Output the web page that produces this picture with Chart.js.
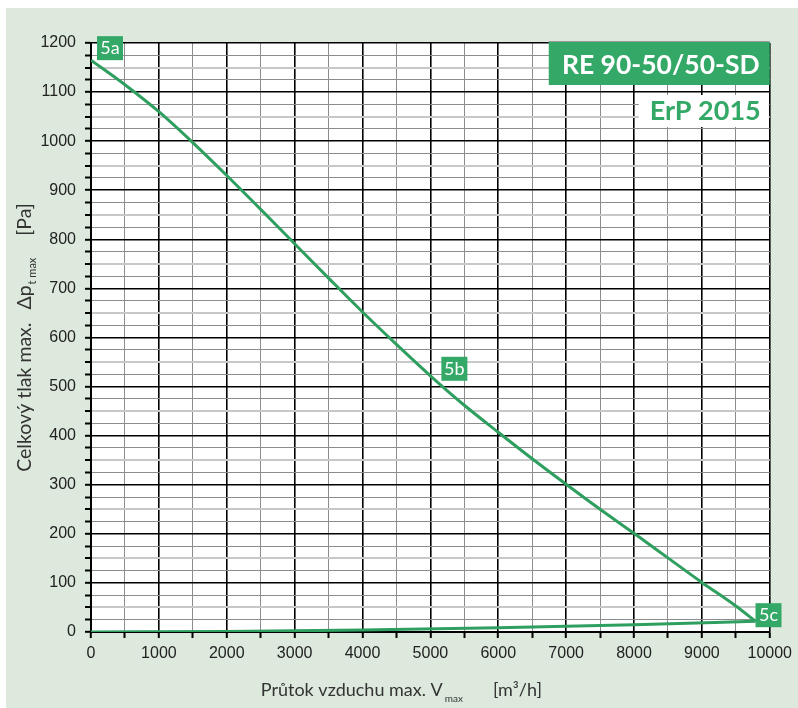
<!DOCTYPE html>
<html><head><meta charset="utf-8">
<script src="https://cdn.jsdelivr.net/npm/chart.js@4"></script>
<style>html,body{margin:0;padding:0;background:#fff;}#wrap{width:798px;height:708px;}</style>
</head><body><div id="wrap"><canvas id="c" width="798" height="708"></canvas></div>
<script>
// ---- data ----
const fanFlow = [0, 500, 1000, 1500, 2000, 2500, 3000, 3500, 4000, 4500, 5000, 5500, 6000, 6500, 7000, 7500, 8000, 8500, 9000, 9500, 9790];
const fanPressure = [1165, 1115, 1060, 997, 930, 861, 791, 721, 652, 586, 522, 462, 407, 353, 301, 250, 201, 151, 101, 53, 22];
const sysFlow = [0, 2000, 4000, 6000, 8000, 9790];
const sysPressure = [0, 1, 4, 8.5, 15, 22];
const pointNames = ['5a', '5b', '5c'];
const pointFlow = [0, 5000, 9790];
const pointPressure = [1165, 522, 22];
const xTickLabels = [0, 1000, 2000, 3000, 4000, 5000, 6000, 7000, 8000, 9000, 10000];
const yTickLabels = [0, 100, 200, 300, 400, 500, 600, 700, 800, 900, 1000, 1100, 1200];
const modelName = 'RE 90-50/50-SD';
const erpLabel = 'ErP 2015';
const xTitle = 'Průtok vzduchu max. V';
const xTitleSub = 'max';
const xUnit = '[m³/h]';
const yTitle = 'Celkový tlak max.';
const yTitleSym = 'Δp';
const yTitleSub = 't max';
const yUnit = '[Pa]';

// ---- style ----
const GREEN = '#33a867', LINE = '#2e9f5f', BG = '#dce9dc', TXT = '#333';
const labelOffsets = [[6, -24], [11, -19], [0, -18]];
const TFONT = 'Lato, "Open Sans", sans-serif';

const pts = (xs, ys) => xs.map((x, i) => ({x, y: ys[i]}));

const deco = {
  id: 'deco',
  beforeDraw(chart) {
    const {ctx, chartArea: a} = chart;
    ctx.save();
    ctx.fillStyle = BG;
    ctx.fillRect(6, 8, chart.width - 6, chart.height - 8);
    ctx.fillStyle = '#fff';
    ctx.fillRect(a.left, a.top, a.right - a.left, a.bottom - a.top);
    ctx.restore();
  },
  afterDraw(chart) {
    const {ctx, chartArea: a, scales: {x, y}} = chart;
    ctx.save();
    // model title box
    ctx.fillStyle = '#9a9a9a';
    ctx.fillRect(a.right - 221, a.top - 2, 221, 2);
    ctx.fillStyle = GREEN;
    ctx.fillRect(a.right - 221, a.top - 1, 221, 43);
    ctx.fillStyle = '#fff';
    ctx.font = 'bold 26.5px ' + TFONT;
    ctx.textAlign = 'center';
    ctx.textBaseline = 'alphabetic';
    ctx.fillText(modelName, a.right - 109, a.top + 31);
    // ErP
    ctx.fillStyle = '#fff';
    ctx.fillRect(a.right - 131, a.top + 52, 130, 32);
    ctx.fillStyle = GREEN;
    ctx.font = 'bold 27px ' + TFONT;
    ctx.textAlign = 'right';
    ctx.fillText(erpLabel, a.right - 9, a.top + 77);
    // point labels
    ctx.font = '18px ' + TFONT;
    ctx.textAlign = 'center';
    pointNames.forEach((n, i) => {
      const px = x.getPixelForValue(pointFlow[i]);
      const py = y.getPixelForValue(pointPressure[i]);
      const bx = px + labelOffsets[i][0], by = py + labelOffsets[i][1];
      ctx.fillStyle = GREEN;
      ctx.fillRect(bx, by, 26, 24);
      ctx.fillStyle = '#fff';
      ctx.fillText(n, bx + 13, by + 18);
    });
    // x title
    ctx.fillStyle = TXT;
    ctx.textAlign = 'left';
    let fMain = '18px ' + TFONT, fSub = '10px ' + TFONT;
    ctx.font = fMain;
    const w1 = ctx.measureText(xTitle).width;
    const w3 = ctx.measureText(xUnit).width;
    ctx.font = fSub;
    const w2 = ctx.measureText(xTitleSub).width;
    const gap = 30;
    const total = w1 + 2 + w2 + gap + w3;
    let sx = (a.left + a.right) / 2 - 29 - total / 2;
    const by = chart.height - 12;
    ctx.font = fMain; ctx.fillText(xTitle, sx, by);
    ctx.font = fSub; ctx.fillText(xTitleSub, sx + w1 + 2, by + 6);
    ctx.font = fMain; ctx.fillText(xUnit, sx + w1 + 2 + w2 + gap, by);
    // y title (rotated)
    fMain = '19.5px ' + TFONT; fSub = '11px ' + TFONT;
    ctx.font = fMain;
    const v1 = ctx.measureText(yTitle).width;
    const v2 = ctx.measureText(yTitleSym).width;
    const v4 = ctx.measureText(yUnit).width;
    ctx.font = fSub;
    const v3 = ctx.measureText(yTitleSub).width;
    const g1 = 13, g2 = 22;
    const vt = v1 + g1 + v2 + 1 + v3 + g2 + v4;
    ctx.translate(31, (a.top + a.bottom) / 2);
    ctx.rotate(-Math.PI / 2);
    let t = -vt / 2;
    ctx.font = fMain; ctx.fillText(yTitle, t, 0); t += v1 + g1;
    ctx.fillText(yTitleSym, t, 0); t += v2 + 1;
    ctx.font = fSub; ctx.fillText(yTitleSub, t, 5); t += v3 + g2;
    ctx.font = fMain; ctx.fillText(yUnit, t, 0);
    ctx.restore();
  }
};

new Chart(document.getElementById('c'), {
  type: 'scatter',
  data: {
    datasets: [
      {data: pts(fanFlow, fanPressure), showLine: true, borderColor: LINE, borderWidth: 3, pointRadius: 0, cubicInterpolationMode: 'monotone', fill: false},
      {data: pts(sysFlow, sysPressure), showLine: true, borderColor: LINE, borderWidth: 3, pointRadius: 0, cubicInterpolationMode: 'monotone', fill: false}
    ]
  },
  options: {
    responsive: false,
    animation: false,
    devicePixelRatio: 1,
    layout: {padding: {top: 43, right: 26, left: 0, bottom: 0}},
    plugins: {legend: {display: false}, tooltip: {enabled: false}},
    scales: {
      x: {
        type: 'linear', min: 0, max: 10000,
        afterFit: s => { s.height = 76; },
        border: {display: true, color: '#000', width: 2},
        grid: {
          color: c => c.tick && c.tick.value % 1000 === 0 ? '#000' : '#8c8c8c',
          lineWidth: c => c.tick && c.tick.value % 1000 === 0 ? 1.6 : 1,
          tickColor: '#000', tickLength: 6, tickWidth: 2
        },
        ticks: {
          stepSize: 500, autoSkip: false, maxRotation: 0, padding: 6, maxTicksLimit: 1000,
          color: '#222', font: {family: '"Liberation Sans", Arial, sans-serif', size: 16},
          callback: v => xTickLabels.includes(v) ? String(v) : ''
        }
      },
      y: {
        type: 'linear', min: 0, max: 1200,
        afterFit: s => { s.width = 91; },
        border: {display: true, color: '#000', width: 2},
        grid: {
          color: c => !c.tick ? '#000' : (c.tick.value % 100 === 0 ? '#000' : (c.tick.value % 50 === 0 ? '#c8c8c8' : '#8c8c8c')),
          lineWidth: c => !c.tick ? 1 : (c.tick.value % 100 === 0 ? 1.6 : (c.tick.value % 50 === 0 ? 2 : 1)),
          tickColor: '#000', tickLength: 6, tickWidth: 2
        },
        ticks: {
          stepSize: 25, autoSkip: false, padding: 9, maxTicksLimit: 1000,
          color: '#222', font: {family: '"Liberation Sans", Arial, sans-serif', size: 16},
          callback: v => yTickLabels.includes(v) ? String(v) : ''
        }
      }
    }
  },
  plugins: [deco]
});
</script></body></html>
